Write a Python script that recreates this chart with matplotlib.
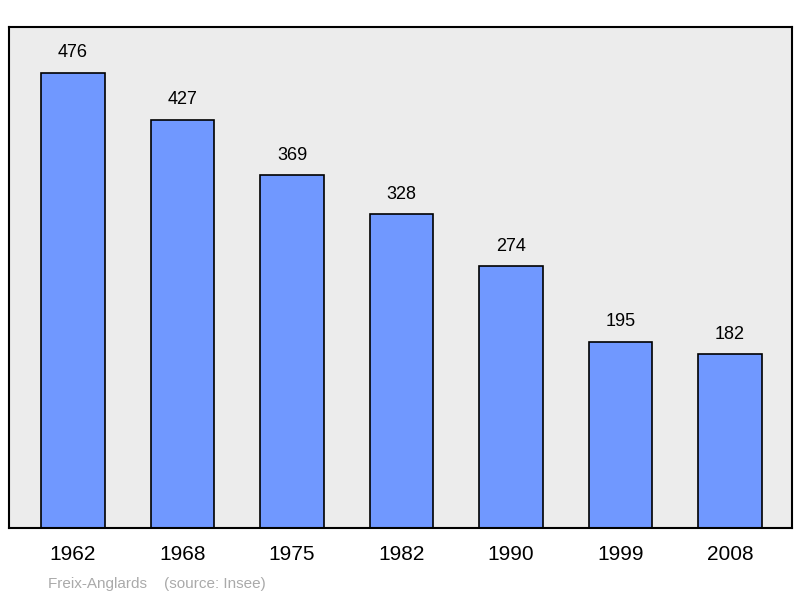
import matplotlib
matplotlib.use("Agg")
import matplotlib.pyplot as plt

years = ["1962", "1968", "1975", "1982", "1990", "1999", "2008"]
values = [476, 427, 369, 328, 274, 195, 182]

plt.rcParams['font.family'] = ['Liberation Sans', 'DejaVu Sans']
fig = plt.figure(figsize=(8, 5.98), dpi=100)
ax = fig.add_axes([9/800, 1-528/598, (792-9)/800, (528-27)/598])
ax.set_facecolor('#ececec')
x = range(len(years))
ax.bar(x, values, width=0.578, color='#7098ff', edgecolor='black', linewidth=1.2)
for i, v in zip(x, values):
    ax.text(i, v + 12, str(v), ha='center', va='bottom', fontsize=13)
ax.set_xlim(-0.584, 6.566)
ax.set_ylim(0, 524)
ax.set_yticks([])
ax.set_xticks(list(x))
ax.set_xticklabels(years, fontsize=15)
ax.tick_params(axis='x', length=0, pad=12)
for s in ax.spines.values():
    s.set_linewidth(1.5)
fig.text(48/800, 1-584/598, "Freix-Anglards    (source: Insee)", fontsize=11, color='#aaaaaa', va='center')
fig.savefig("out.png", dpi=100)
